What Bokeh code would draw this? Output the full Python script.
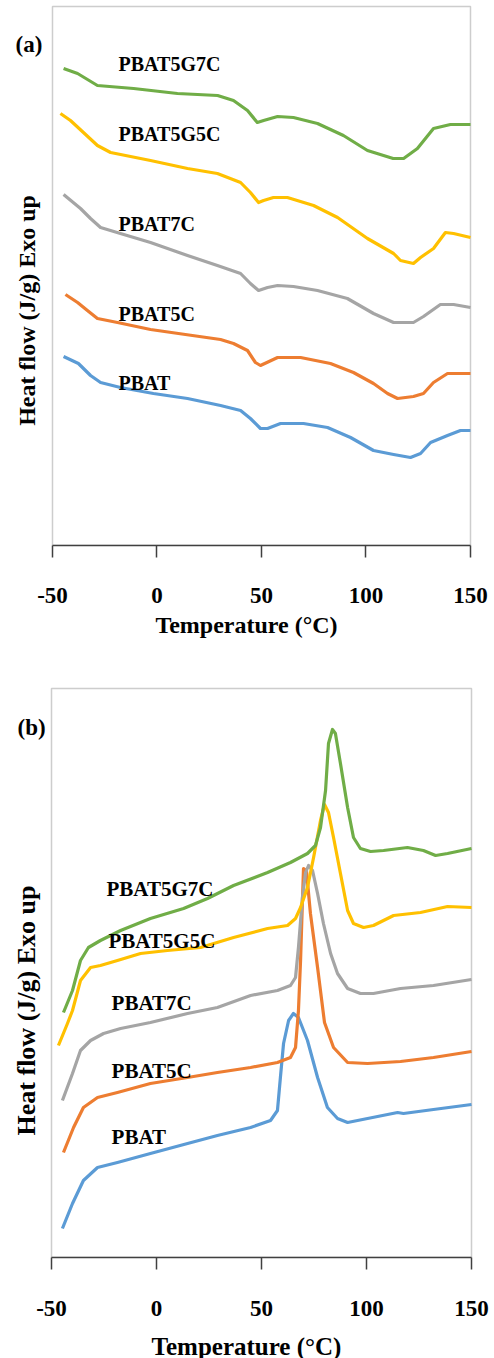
import math
from bokeh.plotting import figure
from bokeh.models import Range1d, FixedTicker, Label, ColumnDataSource, BoxAnnotation
from bokeh.layouts import column
from bokeh.embed import file_html
from bokeh.resources import INLINE
from bokeh.core.properties import value

FONT = "Liberation Serif"
COLORS = {"PBAT": "#5B9BD5", "PBAT5C": "#ED7D31", "PBAT7C": "#A5A5A5",
          "PBAT5G5C": "#FFC000", "PBAT5G7C": "#70AD47"}
x_ticks = [-50, 0, 50, 100, 150]

# ---------------- Panel (a): heating (arbitrary units) ----------------
a_g7_T = [-44.7, -38, -28.5, -11.2, 9.8, 29, 36.6, 43.3, 48, 51, 57.7, 65.3, 76.8, 89.2, 100.7, 113, 118, 124.6, 132.3, 140.4, 150]
a_g7_y = [477, 472, 460, 457, 452, 450, 445, 435, 423, 425, 429, 428, 422, 410, 395, 387, 387, 397, 417, 421, 421]
a_g5_T = [-46.2, -41.4, -35.2, -28.5, -22.2, -3.1, 14.6, 28.9, 40, 44.7, 48.6, 51, 55.7, 62.4, 74.9, 86.4, 100.7, 113.2, 116.5, 122.7, 126.1, 132.3, 138, 141.9, 150]
a_g5_y = [432, 425, 413, 400, 393, 385, 377, 372, 363, 353, 343, 345, 348, 348, 340, 328, 307, 292, 285, 282, 288, 297, 313, 312, 308]
a_7c_T = [-44.7, -36.6, -31.8, -27, -17.5, -3.1, 14.6, 28.9, 40, 44.7, 48.6, 52.9, 57.7, 65.3, 76.8, 91.1, 103.6, 113.2, 122.7, 127.5, 135.6, 141.9, 150]
a_7c_y = [351, 337, 327, 318, 312, 303, 290, 280, 272, 262, 255, 258, 260, 259, 255, 247, 232, 223, 223, 229, 241, 241, 238]
a_5c_T = [-43.8, -38, -33.3, -28.5, -18.9, -3.1, 13.6, 30.4, 36.6, 43.3, 47.1, 49.5, 57.7, 68.7, 83, 94, 103.6, 110.3, 115.1, 122.7, 127.5, 132.3, 139, 150]
a_5c_y = [251, 243, 235, 227, 223, 216, 211, 206, 202, 195, 183, 180, 188, 188, 182, 173, 162, 152, 147, 149, 152, 163, 172, 172]
a_p_T = [-44.7, -37.6, -31.8, -27, -17.5, -1.7, 14.6, 30.4, 40, 44.7, 49.5, 52.9, 59.1, 70.1, 81.6, 92.6, 103.6, 113.2, 121.3, 126.1, 130.9, 139, 145.2, 150]
a_p_y = [189, 182, 170, 163, 158, 152, 147, 140, 135, 127, 117, 117, 122, 122, 118, 108, 95, 91, 88, 92, 103, 110, 115, 115]

a_lab_names = ["PBAT5G7C", "PBAT5G5C", "PBAT7C", "PBAT5C", "PBAT"]
a_lab_T = [-18.4, -18.4, -18.4, -18.4, -18.4]
a_lab_y = [482, 412, 322, 232, 163]
a_ymax = 539          # top of the plotted (boxed) area, arbitrary units

# ---------------- Panel (b): cooling (arbitrary units) ----------------
b_g7_T = [-44.3, -40, -36.2, -32.4, -26.7, -17.1, -2.9, 12.9, 24.3, 36.7, 52.9, 63.8, 71.9, 75.7, 78.1, 80.5, 81.9, 83.8, 85.2, 87.6, 91, 93.8, 97.1, 101.9, 108.1, 119.5, 127.1, 132.9, 138.6, 150]
b_g7_y = [245, 267, 297, 310, 317, 327, 339, 349, 359, 372, 385, 395, 404, 412, 430, 467, 514, 528, 524, 494, 450, 420, 409, 406, 407, 410, 407, 402, 404, 409]
b_g5_T = [-46.7, -42.4, -40, -36.2, -31.4, -26.7, -18.6, -7.6, 5.2, 21, 36.7, 52.9, 62.4, 66.2, 68.6, 71.9, 74.8, 78.1, 80, 81.9, 84.3, 87.6, 91, 93.8, 98.6, 103.3, 112.9, 125.7, 138.6, 150]
b_g5_y = [212, 234, 247, 277, 290, 292, 297, 304, 307, 310, 320, 329, 332, 339, 350, 370, 400, 437, 453, 445, 420, 384, 347, 334, 330, 332, 342, 345, 351, 350]
b_7c_T = [-44.8, -40, -36.2, -31.4, -25.2, -17.1, -2.9, 14.8, 29, 44.8, 57.6, 63.8, 66.2, 67.6, 69.5, 71, 72.4, 74.3, 76.7, 79.5, 82.9, 86.2, 91, 97.1, 103.3, 116.2, 131.9, 150]
b_7c_y = [157, 184, 207, 217, 224, 229, 235, 244, 250, 262, 267, 272, 280, 310, 360, 385, 392, 387, 364, 334, 304, 284, 269, 264, 264, 269, 272, 278]
b_5c_T = [-44.3, -39.5, -34.8, -28.1, -18.6, -2.9, 14.8, 29, 44.8, 57.6, 63.8, 66.2, 67.6, 68.6, 69.5, 70, 71.4, 73.3, 76.7, 80, 84.3, 91, 100.5, 116.2, 131.9, 150]
b_5c_y = [105, 130, 150, 160, 165, 174, 180, 185, 190, 195, 200, 210, 247, 297, 357, 389, 387, 344, 290, 235, 210, 195, 194, 196, 200, 206]
b_p_T = [-44.8, -40, -34.8, -28.1, -18.6, -2.9, 14.8, 29, 44.8, 54.3, 57.6, 59, 60.5, 62.9, 65.2, 67.6, 71.9, 76.7, 81.4, 86.2, 91, 100.5, 114.8, 117.6, 131.9, 150]
b_p_y = [29, 54, 77, 90, 95, 104, 114, 122, 130, 137, 147, 180, 214, 237, 244, 240, 217, 180, 150, 139, 135, 139, 145, 144, 148, 153]

b_lab_names = ["PBAT5G7C", "PBAT5G5C", "PBAT7C", "PBAT5C", "PBAT"]
b_lab_T = [-23.8, -22.9, -21.4, -21.4, -21.4]
b_lab_y = [369, 317, 255, 187, 121]
b_ymax = 569

Y_TITLE = "Heat flow (J/g) Exo up"
X_TITLE = "Temperature (\u00b0C)"


def make_panel(series, lab_names, lab_T, lab_y, ymax, xr, yr, fh, mb_bottom,
               panel_tag, tag_T, tag_y, ytitle_T, ytitle_y, ytitle_size,
               lab_size, xtitle_size, tick_standoff, title_standoff):
    p = figure(frame_width=492, frame_height=fh,
               x_range=Range1d(*xr), y_range=Range1d(*yr),
               output_backend="svg", toolbar_location=None,
               y_axis_location=None,
               min_border_left=0, min_border_right=0,
               min_border_top=0, min_border_bottom=mb_bottom)
    p.grid.visible = False
    p.outline_line_color = None
    p.background_fill_color = "white"
    p.border_fill_color = "white"

    # plot-area box (left/top/right edges)
    p.add_layout(BoxAnnotation(left=-50, right=150, bottom=0, top=ymax,
                               fill_alpha=0, line_color="#595959",
                               line_width=1.5, level="underlay"))

    for name, T, y in series:
        p.line(T, y, line_color=COLORS[name], line_width=3.2, line_join="round")

    src = ColumnDataSource(dict(x=lab_T, y=lab_y, t=lab_names))
    p.text(x="x", y="y", text="t", source=src, text_font=value(FONT),
           text_font_style="bold", text_font_size=lab_size,
           text_align="left", text_baseline="middle", text_color="black")

    ax = p.xaxis[0]
    ax.bounds = (-50, 150)
    ax.ticker = FixedTicker(ticks=x_ticks)
    ax.major_label_overrides = {-50: "-50"}
    ax.minor_tick_line_color = None
    ax.major_tick_in = 0
    ax.major_tick_out = 12
    ax.axis_line_color = "#404040"
    ax.axis_line_width = 1.5
    ax.major_tick_line_color = "#404040"
    ax.major_tick_line_width = 1.5
    ax.major_label_text_font = FONT
    ax.major_label_text_font_style = "bold"
    ax.major_label_text_font_size = "23px"
    ax.major_label_text_color = "black"
    ax.major_label_standoff = tick_standoff
    ax.axis_label = X_TITLE
    ax.axis_label_text_font = FONT
    ax.axis_label_text_font_style = "bold"
    ax.axis_label_text_font_size = xtitle_size
    ax.axis_label_text_color = "black"
    ax.axis_label_standoff = title_standoff

    p.add_layout(Label(x=tag_T, y=tag_y, text=panel_tag, text_font=FONT,
                       text_font_style="bold", text_font_size="23px",
                       text_align="left", text_baseline="middle",
                       text_color="black"))
    p.add_layout(Label(x=ytitle_T, y=ytitle_y, text=Y_TITLE, angle=math.pi / 2,
                       text_font=FONT, text_font_style="bold",
                       text_font_size=ytitle_size, text_align="center",
                       text_baseline="middle", text_color="black"))
    return p


series_a = [("PBAT", a_p_T, a_p_y), ("PBAT5C", a_5c_T, a_5c_y),
            ("PBAT7C", a_7c_T, a_7c_y), ("PBAT5G5C", a_g5_T, a_g5_y),
            ("PBAT5G7C", a_g7_T, a_g7_y)]
series_b = [("PBAT", b_p_T, b_p_y), ("PBAT5C", b_5c_T, b_5c_y),
            ("PBAT7C", b_7c_T, b_7c_y), ("PBAT5G5C", b_g5_T, b_g5_y),
            ("PBAT5G7C", b_g7_T, b_g7_y)]

pa = make_panel(series_a, a_lab_names, a_lab_T, a_lab_y, a_ymax,
                (-74.88, 160.53), (0, 545), 545, 133,
                "(a)", -67.7, 501, -62.4, 235, "24px", "20px", "24px", 30, 6)
pb = make_panel(series_b, b_lab_names, b_lab_T, b_lab_y, b_ymax,
                (-74.286, 160.0), (0, 579), 579, 99,
                "(b)", -66.2, 530, -61.9, 247, "26px", "21px", "25px", 31, 14)

layout = column(pa, pb, spacing=0)
open("out.html", "w").write(file_html(layout, INLINE))
